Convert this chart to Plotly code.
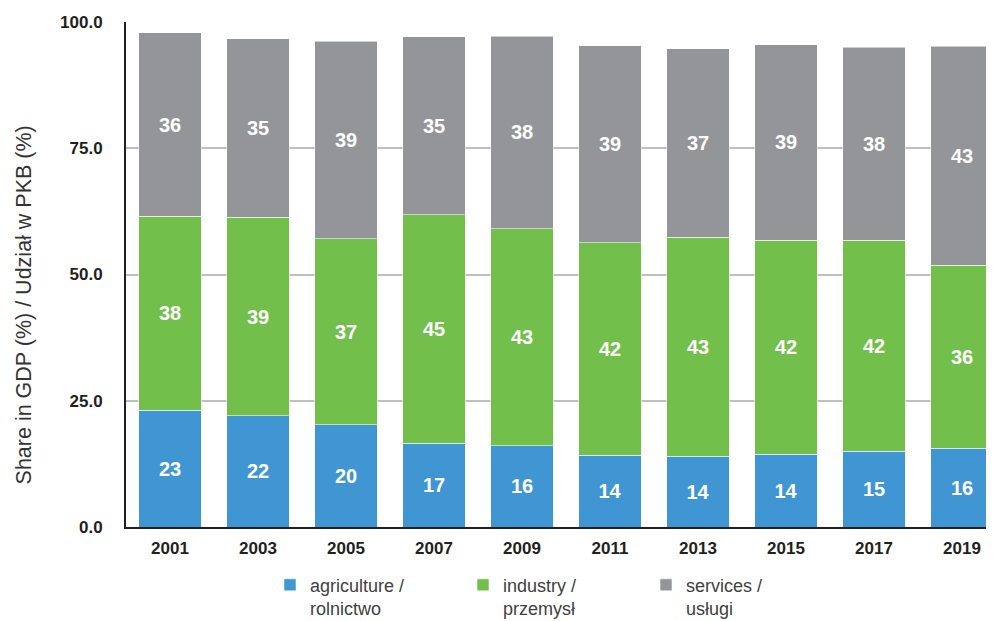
import plotly.graph_objects as go

years = ["2001", "2003", "2005", "2007", "2009", "2011", "2013", "2015", "2017", "2019"]
agriculture = [23.1, 22.0, 20.2, 16.6, 16.1, 14.2, 14.0, 14.4, 15.0, 15.6]
industry = [38.4, 39.3, 36.9, 45.2, 43.0, 42.1, 43.4, 42.4, 41.8, 36.2]
services = [36.4, 35.4, 39.1, 35.3, 38.1, 39.0, 37.3, 38.7, 38.2, 43.4]

series = [
    ("agriculture /<br>rolnictwo", agriculture, "#4096D2", "legend"),
    ("industry /<br>przemysł", industry, "#72BF4C", "legend2"),
    ("services /<br>usługi", services, "#939598", "legend3"),
]
y_title = "Share in GDP (%) / Udział w PKB (%)"

FONT = "Arial, Liberation Sans, sans-serif"

fig = go.Figure()
for name, vals, color, leg in series:
    fig.add_trace(go.Bar(
        x=years, y=vals, name=name,
        marker=dict(color=color, line=dict(color="rgba(255,255,255,0.55)", width=1)),
        texttemplate="%{y:.0f}", textposition="inside", insidetextanchor="middle",
        textfont=dict(family=FONT, size=20, color="white", weight="bold"),
        textangle=0, legend=leg,
    ))

# page body has an 8px offset; figure sized to fit the viewport
W, H = 986, 613
plot_l, plot_r, plot_t, plot_b = 118, 986, 13.7, 519.3
pw = plot_r - plot_l
ph = plot_b - plot_t

def lx(px):
    return (px - plot_l) / pw

def ly(py):
    return (plot_b - py) / ph

leg_common = dict(orientation="v", yanchor="top", xanchor="left", valign="top",
                  font=dict(family=FONT, size=18, color="#404040"),
                  bgcolor="rgba(0,0,0,0)", borderwidth=0, itemwidth=30,
                  tracegroupgap=0)

fig.update_layout(
    width=W, height=H,
    margin=dict(l=plot_l, r=W - plot_r, t=plot_t, b=H - plot_b, autoexpand=False),
    barmode="stack", bargap=0.2875,
    plot_bgcolor="white", paper_bgcolor="white",
    showlegend=True,
    legend=dict(x=lx(262), y=ly(559), **leg_common),
    legend2=dict(x=lx(455), y=ly(559), **leg_common),
    legend3=dict(x=lx(638), y=ly(559), **leg_common),
    xaxis=dict(
        type="category", range=[-0.5, -0.5 + pw / 88.0],
        showline=True, linecolor="#231F20", linewidth=2,
        showgrid=False, ticks="",
        tickfont=dict(family=FONT, size=17, color="#231F20", weight="bold"),
        ticklabelstandoff=5,
    ),
    yaxis=dict(
        range=[0, 100], tickvals=[0, 25, 50, 75, 100],
        ticktext=["0.0", "25.0", "50.0", "75.0", "100.0"],
        showline=True, linecolor="#231F20", linewidth=2,
        showgrid=True, gridcolor="#BFBFBF", gridwidth=1.5,
        zeroline=False, ticks="",
        tickfont=dict(family=FONT, size=17, color="#231F20", weight="bold"),
        ticklabelstandoff=18,
    ),
    annotations=[dict(
        text=y_title, xref="paper", yref="paper",
        x=lx(15.5), y=ly(297), xanchor="center", yanchor="middle",
        textangle=-90, showarrow=False,
        font=dict(family=FONT, size=21.5, color="#333333"),
    )],
)

fig.write_html("out.html")
